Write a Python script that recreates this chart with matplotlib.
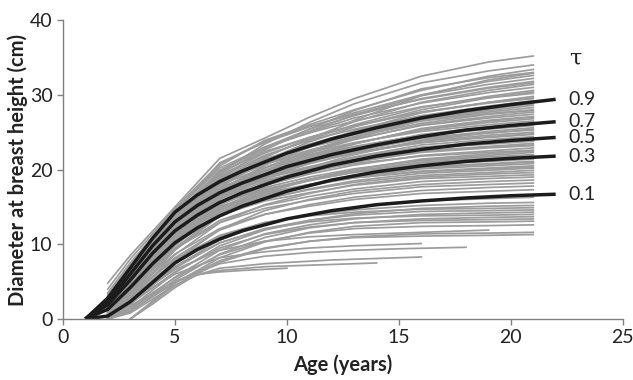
import numpy as np
import matplotlib
matplotlib.use('Agg')
import matplotlib.pyplot as plt

plt.rcParams['font.family'] = ['Lato', 'DejaVu Sans']

grid_age = [2, 3, 5, 7, 9, 11, 13, 16, 19, 21]
nan = np.nan
trees = [
    [4.8, 8.5, 15.0, 21.5, 24.2, 27.0, 29.5, 32.5, 34.4, 35.2],
    [2.0, 5.5, 13.0, 19.6, 23.4, 26.3, 28.8, 31.6, 33.2, 34.0],
    [3.5, 7.5, 14.5, 20.5, 23.9, 26.0, 28.0, 30.6, 32.5, 33.4],
    [1.5, 5.0, 12.5, 18.8, 22.6, 25.4, 27.9, 30.8, 32.3, 33.0],
    [2.8, 6.8, 14.2, 20.9, 23.6, 25.7, 27.6, 30.0, 31.8, 32.6],
    [2.2, 6.0, 13.4, 19.4, 22.8, 25.1, 27.3, 29.9, 31.4, 32.2],
    [3.0, 7.0, 14.0, 19.9, 23.0, 25.4, 27.2, 29.5, 31.0, 31.8],
    [1.2, 4.6, 12.0, 18.0, 21.6, 24.2, 26.4, 29.0, 30.6, 31.4],
    [2.5, 6.4, 13.8, 19.8, 22.9, 25.0, 26.9, 28.9, 30.3, 31.0],
    [1.8, 5.3, 12.8, 18.6, 21.8, 24.0, 26.0, 28.3, 29.8, 30.6],
    [3.2, 7.2, 14.4, 20.2, 23.0, 24.9, 26.5, 28.4, 29.6, 30.2],
    [0.8, 4.0, 11.2, 17.2, 20.6, 23.0, 25.2, 27.6, 29.0, 29.8],
    [2.4, 6.2, 13.5, 19.2, 22.2, 24.3, 25.9, 27.7, 28.9, 29.5],
    [1.6, 5.0, 12.4, 18.2, 21.3, 23.4, 25.1, 27.2, 28.5, 29.2],
    [2.9, 6.6, 13.6, 19.0, 21.9, 23.9, 25.4, 27.2, 28.3, 28.9],
    [1.0, 4.2, 11.4, 17.0, 20.2, 22.5, 24.4, 26.6, 27.9, 28.6],
    [2.0, 5.6, 12.9, 18.3, 21.2, 23.1, 24.7, 26.6, 27.7, 28.3],
    [2.6, 6.3, 13.3, 18.7, 21.4, 23.2, 24.7, 26.5, 27.5, 28.0],
    [1.4, 4.8, 11.9, 17.3, 20.3, 22.3, 24.0, 26.0, 27.1, 27.7],
    [2.2, 5.8, 12.8, 18.0, 20.8, 22.6, 24.1, 25.9, 26.9, 27.4],
    [0.6, 3.6, 10.6, 16.2, 19.4, 21.6, 23.4, 25.5, 26.6, 27.1],
    [1.8, 5.2, 12.2, 17.4, 20.2, 22.0, 23.5, 25.3, 26.3, 26.8],
    [2.7, 6.4, 13.2, 18.2, 20.7, 22.3, 23.6, 25.1, 26.0, 26.5],
    [1.2, 4.4, 11.3, 16.6, 19.5, 21.4, 22.9, 24.7, 25.7, 26.2],
    [2.0, 5.5, 12.4, 17.3, 19.9, 21.6, 23.0, 24.6, 25.4, 25.9],
    [0.9, 4.0, 10.9, 16.0, 18.9, 20.8, 22.4, 24.2, 25.1, 25.6],
    [2.4, 5.9, 12.6, 17.4, 19.8, 21.3, 22.6, 24.1, 24.9, 25.3],
    [1.5, 4.8, 11.6, 16.5, 19.1, 20.8, 22.2, 23.8, 24.6, 25.0],
    [3.0, 6.8, 13.0, 17.6, 19.8, 21.2, 22.3, 23.6, 24.3, 24.7],
    [0.5, 3.4, 10.2, 15.3, 18.2, 20.1, 21.7, 23.3, 24.0, 24.4],
    [1.7, 5.0, 11.6, 16.3, 18.8, 20.3, 21.6, 23.0, 23.7, 24.1],
    [2.3, 5.7, 12.2, 16.7, 19.0, 20.4, 21.6, 22.9, 23.4, 23.8],
    [1.0, 3.9, 10.5, 15.3, 17.9, 19.6, 21.0, 22.5, 23.1, 23.5],
    [2.0, 5.3, 11.7, 16.1, 18.4, 19.8, 21.0, 22.3, 22.9, 23.2],
    [1.3, 4.4, 10.8, 15.4, 17.9, 19.4, 20.6, 21.9, 22.5, 22.9],
    [2.6, 6.0, 12.2, 16.5, 18.6, 19.8, 20.8, 21.8, 22.3, 22.6],
    [0.7, 3.5, 9.8, 14.5, 17.1, 18.7, 20.0, 21.3, 21.9, 22.3],
    [1.8, 4.9, 11.1, 15.4, 17.6, 19.0, 20.1, 21.2, 21.7, 22.0],
    [1.1, 4.1, 10.4, 14.8, 17.1, 18.5, 19.7, 20.9, 21.4, 21.7],
    [2.2, 5.4, 11.4, 15.4, 17.4, 18.6, 19.6, 20.7, 21.1, 21.4],
    [0.4, 3.0, 9.2, 13.8, 16.3, 17.9, 19.2, 20.4, 20.8, 21.1],
    [1.5, 4.5, 10.5, 14.6, 16.7, 18.0, 19.0, 20.1, 20.5, 20.8],
    [2.0, 5.1, 11.0, 14.9, 16.8, 17.9, 18.9, 19.8, 20.2, 20.5],
    [0.8, 3.6, 9.5, 13.8, 16.0, 17.4, 18.5, 19.5, 19.9, 20.2],
    [1.4, 4.3, 10.1, 14.0, 16.1, 17.3, 18.3, 19.2, 19.6, 19.9],
    [0.3, 2.8, 8.6, 12.9, 15.3, 16.8, 18.0, 19.0, 19.4, 19.6],
    [1.7, 4.6, 10.2, 13.9, 15.8, 16.9, 17.9, 18.8, 19.1, 19.3],
    [1.0, 3.8, 9.4, 13.2, 15.2, 16.4, 17.4, 18.4, 18.8, 19.0],
    [0.0, 2.2, 7.8, 12.0, 14.5, 16.0, 17.1, 18.0, 18.4, 18.6],
    [1.2, 4.0, 9.4, 12.9, 14.8, 15.9, 16.8, 17.7, 18.0, 18.2],
    [0.6, 3.0, 8.2, 11.9, 14.0, 15.3, 16.3, 17.2, 17.6, 17.8],
    [0.9, 3.5, 8.7, 12.1, 14.0, 15.1, 16.0, 16.8, 17.1, 17.3],
    [0.0, 2.0, 7.0, 10.6, 12.7, 14.0, 14.9, 15.8, 16.1, 16.3],
    [0.5, 2.8, 7.7, 11.0, 12.9, 13.9, 14.6, 15.2, 15.5, 15.6],
    [0.0, 1.5, 6.2, 9.8, 11.9, 13.2, 14.1, 14.8, 15.1, 15.2],
    [0.8, 3.2, 8.0, 11.2, 12.9, 13.8, 14.3, 14.7, 14.8, 14.9],
    [0.2, 2.3, 6.8, 10.2, 12.1, 13.2, 13.9, 14.4, 14.5, 14.6],
    [0.0, 1.2, 5.6, 9.2, 11.4, 12.6, 13.4, 14.0, 14.2, 14.3],
    [0.4, 2.5, 7.0, 10.2, 12.0, 13.0, 13.5, 13.8, 13.9, 14.0],
    [0.0, 1.0, 5.2, 8.7, 10.9, 12.2, 12.9, 13.4, 13.6, 13.7],
    [0.3, 2.0, 6.3, 9.5, 11.3, 12.3, 12.9, 13.2, 13.3, 13.4],
    [nan, 0.0, 4.8, 8.2, 10.3, 11.6, 12.4, 12.9, 13.0, 13.1],
    [0.0, 1.5, 5.5, 8.6, 10.4, 11.5, 12.1, 12.4, 12.5, 12.6],
    [nan, 0.0, 4.5, 7.6, 9.4, 10.4, 11.0, 11.4, 11.5, 11.6],
    [0.0, 1.0, 4.9, 7.8, 9.5, 10.4, 10.9, 11.1, 11.2, 11.3],
    [0.5, 3.5, 10.5, 16.6, 20.6, 23.8, 26.6, 29.9, 32.0, 32.9],
    [4.0, 8.0, 14.8, 20.8, 23.8, 25.8, 27.4, 29.4, 30.9, 31.6],
    [1.0, 4.4, 11.6, 17.6, 21.2, 23.7, 25.7, 28.0, 29.6, 30.4],
    [3.4, 7.2, 14.0, 19.6, 22.4, 24.3, 25.8, 27.7, 29.0, 29.6],
    [0.6, 3.8, 10.8, 16.4, 19.8, 22.2, 24.2, 26.6, 28.1, 28.8],
    [3.0, 6.9, 13.6, 18.8, 21.4, 23.0, 24.4, 26.2, 27.4, 27.9],
    [1.4, 4.9, 11.9, 17.1, 19.9, 21.9, 23.5, 25.4, 26.5, 27.0],
    [2.9, 6.6, 13.1, 17.9, 20.3, 21.8, 23.1, 24.6, 25.5, 26.0],
    [0.3, 3.2, 10.0, 15.2, 18.2, 20.3, 22.0, 23.9, 24.9, 25.4],
    [2.1, 5.6, 12.2, 16.9, 19.3, 20.9, 22.2, 23.6, 24.4, 24.8],
    [1.0, 4.1, 10.7, 15.5, 18.1, 19.8, 21.3, 22.8, 23.6, 24.0],
    [2.8, 6.2, 12.5, 16.8, 18.9, 20.2, 21.3, 22.4, 23.0, 23.3],
    [0.2, 3.0, 9.4, 14.2, 16.9, 18.6, 20.0, 21.4, 22.1, 22.5],
    [1.6, 4.7, 10.8, 15.0, 17.3, 18.7, 19.8, 21.0, 21.5, 21.8],
    [0.9, 3.9, 10.0, 14.3, 16.5, 17.9, 19.0, 20.2, 20.7, 21.0],
    [2.4, 5.6, 11.3, 15.0, 16.9, 18.0, 18.9, 19.7, 20.1, 20.3],
]

# trees measured for fewer years
short_age = [
    [3, 4, 5, 6, 7, 8, 10],
    [2, 3, 5, 6, 7, 9, 11, 14],
    [2, 3, 5, 7, 9, 12, 14, 16],
    [2, 3, 5, 7, 9, 11, 13, 16],
    [2, 3, 5, 7, 9, 11, 13, 15, 18],
    [2, 3, 5, 7, 9, 11, 13, 16, 19],
]
short_trees = [
    [0.0, 2.0, 4.2, 6.0, 6.3, 6.5, 6.8],
    [0.0, 0.8, 4.5, 5.9, 6.5, 7.0, 7.2, 7.5],
    [0.3, 1.8, 5.0, 6.8, 7.4, 7.9, 8.1, 8.3],
    [0.5, 2.4, 6.0, 8.2, 9.0, 9.5, 9.8, 10.1],
    [0.0, 1.5, 5.0, 7.4, 8.4, 8.9, 9.2, 9.4, 9.6],
    [0.6, 2.6, 6.6, 9.2, 10.4, 11.0, 11.3, 11.6, 11.9],
]

# quantile regression curves
q_age = [1, 2, 3, 4, 5, 6, 7, 8, 10, 12, 14, 16, 18, 20, 22]
q90 = [0, 2.8, 6.8, 10.8, 14.3, 16.6, 18.4, 19.8, 22.2, 24.1, 25.6, 26.9, 27.9, 28.7, 29.4]
q70 = [0, 2.3, 6.0, 9.8, 13.0, 15.2, 16.9, 18.2, 20.4, 22.0, 23.3, 24.4, 25.3, 25.9, 26.4]
q50 = [0, 1.9, 5.2, 8.8, 11.8, 13.9, 15.6, 16.9, 19.0, 20.6, 21.8, 22.7, 23.4, 23.9, 24.3]
q30 = [0, 1.3, 4.2, 7.4, 10.2, 12.2, 13.8, 15.1, 17.1, 18.6, 19.7, 20.5, 21.1, 21.5, 21.8]
q10 = [0, 0.4, 2.3, 4.9, 7.5, 9.3, 10.7, 11.8, 13.4, 14.5, 15.3, 15.8, 16.2, 16.5, 16.7]
quantiles = [('0.9', q90), ('0.7', q70), ('0.5', q50), ('0.3', q30), ('0.1', q10)]

fig = plt.figure(figsize=(6.33, 3.8), dpi=100)
ax = fig.add_axes([0.0995, 0.1605, 0.8845, 0.7865])

grey = '#9c9c9c'
for t in trees:
    ax.plot(grid_age, t, color=grey, lw=1.25)
for a, t in zip(short_age, short_trees):
    ax.plot(a, t, color=grey, lw=1.25)

for lab, q in quantiles:
    ax.plot(q_age, q, color='#1c1c1c', lw=2.5, solid_capstyle='butt')
    ax.text(22.55, q[-1], lab, fontsize=14, color='#222222', va='center', ha='left')
ax.text(22.6, 34.8, '\u03c4', fontsize=16, color='#222222', va='center', ha='left',
        family=['DejaVu Serif'])

ax.set_xlim(0, 25)
ax.set_ylim(0, 40)
ax.set_xticks([0, 5, 10, 15, 20, 25])
ax.set_yticks([0, 10, 20, 30, 40])
for s in ['top', 'right']:
    ax.spines[s].set_visible(False)
for s in ['left', 'bottom']:
    ax.spines[s].set_color('#808080')
    ax.spines[s].set_linewidth(1.0)
ax.tick_params(colors='#808080', labelcolor='#222222', labelsize=14, length=4, width=1.0)
ax.set_xlabel('Age (years)', fontsize=14.5, fontweight='bold', color='#222222', labelpad=6)
ax.set_ylabel('Diameter at breast height (cm)', fontsize=14.5, fontweight='bold',
              color='#222222', labelpad=1)

fig.savefig('out.png', dpi=100)
